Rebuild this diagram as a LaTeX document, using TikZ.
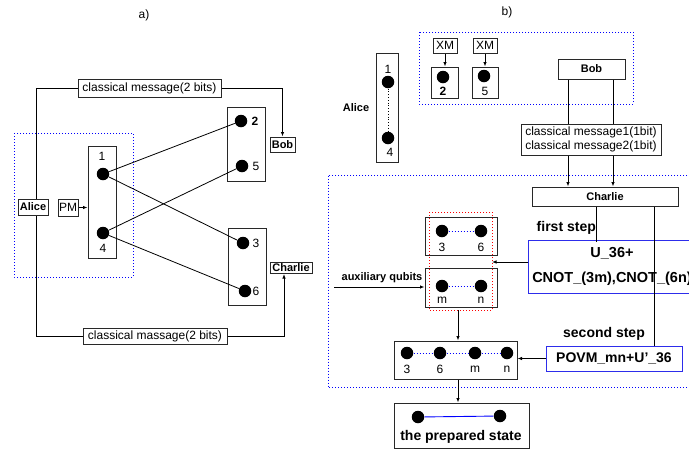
\documentclass[tikz,border=0pt]{standalone}
\usepackage{fontspec}
\setmainfont{Liberation Sans}
\usetikzlibrary{arrows.meta}
\definecolor{stepblue}{RGB}{45,45,235}
\definecolor{edgegray}{RGB}{40,40,40}

\begin{document}
\begin{tikzpicture}[x=1pt,y=-1pt,line width=0.8pt,
  font=\fontsize{12}{14}\selectfont,
  box/.style={draw=edgegray,line width=1pt,inner sep=1pt},
  holder/.style={draw=edgegray,line width=1pt,inner sep=0pt},
  qubit/.style={circle,fill=black,inner sep=0pt,minimum size=12.5pt},
  bolder/.style={font=\fontsize{11}{13}\selectfont\bfseries},
  steptext/.style={font=\fontsize{14}{17}\selectfont\bfseries},
  stepbox/.style={draw=stepblue,line width=1pt,steptext},
  arr/.style={-{Latex[length=4.5pt,width=3.5pt]}},
  frame/.style={blue,line width=0.9pt,dash pattern=on 1pt off 2pt},
  link/.style={blue,line width=0.8pt,dash pattern=on 1pt off 2pt}]
\useasboundingbox (0,0) rectangle (689,451);
\clip (0,0) rectangle (689,451);
\fill[white] (0,0) rectangle (689,451);

% part a)
\node (tita) at (144,15) {a)};
\node[box,minimum width=143,minimum height=18] (msgA) at (149.5,88) {classical message(2 bits)};
\node[box,bolder,minimum width=25,minimum height=15] (bobA) at (282.5,144.5) {Bob};
\node[box,bolder,minimum width=30,minimum height=16] (aliceA) at (33,207) {Alice};
\node[box,minimum width=20,minimum height=17] (pm) at (68,207.5) {PM};
\node[box,bolder,minimum width=42,minimum height=11] (charlieA) at (291,268) {Charlie};
\node[box,minimum width=144,minimum height=16] (msgB) at (155,336) {classical massage(2 bits)};

\draw[frame] (14,133) rectangle (133,277);

\node[holder,minimum width=28,minimum height=112] (regA) at (102,202) {};
\node[holder,minimum width=38,minimum height=74] (reg25) at (246,144) {};
\node[holder,minimum width=38,minimum height=77] (reg36) at (247,266.5) {};

\node[qubit] (a1) at (103,174) {};
\node[qubit] (a4) at (103,233) {};
\node[qubit] (a2) at (241,121) {};
\node[qubit] (a5) at (242,166) {};
\node[qubit] (a3) at (243,243) {};
\node[qubit] (a6) at (245,291) {};
\node (la1) at (102,156) {1};
\node (la4) at (103,248) {4};
\node (la2) at (255,121) {\bfseries 2};
\node (la5) at (256,166) {5};
\node (la3) at (256,243) {3};
\node (la6) at (256,291) {6};

\draw (a1) -- (a2);
\draw (a1) -- (a3);
\draw (a4) -- (a5);
\draw (a4) -- (a6);

\draw (msgA.west) -| ([xshift=3]aliceA.north);
\draw[arr] (msgA.east) -| (bobA.north);
\draw (msgB.west) -| ([xshift=3]aliceA.south);
\draw[arr] (msgB.east) -| ([xshift=-7]charlieA.south);
\draw[arr] (pm.east) -- (pm.east -| regA.west);

% part b)
\node (titb) at (507,12) {b)};
\draw[frame] (419,32) rectangle (633,104);
\node[box,minimum width=24,minimum height=15] (xm1) at (445,45.5) {XM};
\node[box,minimum width=24,minimum height=15] (xm2) at (485,45.5) {XM};
\node[holder,minimum width=27,minimum height=31] (reg2) at (444.5,82.5) {};
\node[holder,minimum width=26,minimum height=31] (reg5) at (485,82.5) {};
\node[qubit] (b2) at (443,77) {};
\node[qubit] (b5) at (484,76) {};
\node (lb2) at (443,91) {\bfseries 2};
\node (lb5) at (485,91) {5};
\draw[arr] (xm1.south) -- (xm1.south |- reg2.north);
\draw[arr] (xm2.south) -- (xm2.south |- reg5.north);

\node[box,bolder,minimum width=67,minimum height=20] (bobB) at (591.5,69) {Bob};

\node[bolder] (aliceB) at (356,108) {Alice};
\node[holder,minimum width=22,minimum height=109] (regB) at (387,107.5) {};
\node[qubit] (b1) at (388,82) {};
\node[qubit] (b4) at (388,138) {};
\node (lb1) at (388,69) {1};
\node (lb4) at (390,152) {4};
\draw[dotted] (b1) -- (b4);

\node[box,minimum width=140,minimum height=31,align=center,
  font=\fontsize{12}{14.5}\selectfont] (msgC) at (591,139.5)
  {classical message1(1bit)\\classical message2(1bit)};
\node[box,bolder,minimum width=146,minimum height=19] (charlieB) at (605,196.5) {Charlie};

\draw ([xshift=-23.5]bobB.south) -- ([xshift=-23.5]bobB.south |- msgC.north);
\draw ([xshift=21.5]bobB.south) -- ([xshift=21.5]bobB.south |- msgC.north);
\draw[arr] ([xshift=-23]msgC.south) -- ([xshift=-23]msgC.south |- charlieB.north);
\draw[arr] ([xshift=22]msgC.south) -- ([xshift=22]msgC.south |- charlieB.north);

\draw[frame] (328,175.5) rectangle (720,387.5);

\node[steptext,anchor=west] (first) at (533,228) {first step};
\node[stepbox,minimum width=160,minimum height=53,align=center,
  font=\fontsize{14.5}{17}\selectfont\bfseries] (ubox) at (612,266.5)
  {U\_36+\\[8pt]CNOT\_(3m),CNOT\_(6n)};
\node[steptext] (second) at (604,334) {second step};
\node[stepbox,minimum width=136,minimum height=25,inner sep=2pt] (povm) at (614,358.5) {POVM\_mn+U'\_36};

\draw ([xshift=-9]charlieB.south) -- ([xshift=-9,yshift=-2]charlieB.south |- ubox.north);
\draw ([xshift=49]charlieB.south) -- ([xshift=49]charlieB.south |- povm.north);

\draw[red,line width=0.9pt,dash pattern=on 1pt off 2pt] (429,212) rectangle (492,310);
\coordinate (grp) at (492,262);
\node[holder,minimum width=72,minimum height=38] (reg36b) at (461,236) {};
\node[holder,minimum width=72,minimum height=39] (regmn) at (461,287.5) {};
\node[qubit] (c3) at (442,231) {};
\node[qubit] (c6) at (481,231) {};
\node[qubit] (cm) at (442,286) {};
\node[qubit] (cn) at (481,286) {};
\node (lc3) at (442,247) {3};
\node (lc6) at (481,247) {6};
\node (lcm) at (442,300) {m};
\node (lcn) at (481,300) {n};
\draw[link] (c3) -- (c6);
\draw[link] (cm) -- (cn);

\draw[arr] ([yshift=4.5]ubox.west) -- (grp);
\node[bolder] (aux) at (382,278) {auxiliary qubits};
\coordinate (auxin) at (334,287);
\draw[arr] (auxin) -- (auxin -| regmn.west);

\node[holder,minimum width=123,minimum height=38] (reg4) at (455.5,360) {};
\node[qubit] (e3) at (407,353) {};
\node[qubit] (e6) at (440,353) {};
\node[qubit] (em) at (475,353) {};
\node[qubit] (en) at (507,353) {};
\node (le3) at (407,369) {3};
\node (le6) at (440,369) {6};
\node (lem) at (475,369) {m};
\node (len) at (507,369) {n};
\draw[link] (e3) -- (e6);
\draw[link] (e6) -- (em);
\draw[link] (em) -- (en);

\coordinate (grpout) at (458,310);
\draw[arr] (grpout) -- (grpout |- reg4.north);
\draw[arr] (povm.west) -- (povm.west -| reg4.east);

\node[holder,minimum width=135,minimum height=45] (prep) at (461.5,425.5) {};
\node[qubit] (p1) at (418,417) {};
\node[qubit] (p2) at (500,416) {};
\draw[blue,line width=0.9pt] (p1) -- (p2);
\node[steptext] (lprep) at (461,437) {the prepared state};
\draw[arr] ([xshift=2.5]reg4.south) -- ([xshift=2.5]reg4.south |- prep.north);
\end{tikzpicture}
\end{document}
